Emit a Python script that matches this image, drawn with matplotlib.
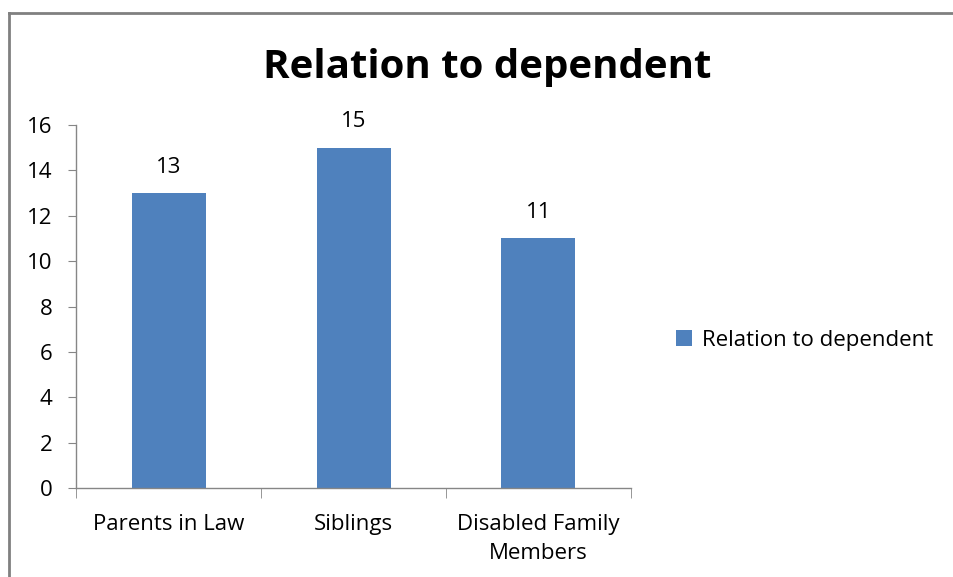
import matplotlib
matplotlib.use("Agg")
import matplotlib.pyplot as plt
from matplotlib.lines import Line2D

categories = ["Parents in Law", "Siblings", "Disabled Family\nMembers"]
values = [13, 15, 11]
series_name = "Relation to dependent"
yticks = [0, 2, 4, 6, 8, 10, 12, 14, 16]

bar_color = "#4f81bd"
axis_color = "#868686"

plt.rcParams["font.family"] = ["Open Sans", "DejaVu Sans"]

fig = plt.figure(figsize=(9.54, 5.77), dpi=100)
ax = fig.add_axes([0.0797, 0.1542, 0.5817, 0.6292])

x = list(range(len(categories)))
bars = ax.bar(x, values, width=0.4, color=bar_color, label=series_name, zorder=2)
for b, v in zip(bars, values):
    ax.annotate(str(v), (b.get_x() + b.get_width() / 2, v), xytext=(0, 11),
                textcoords="offset points", ha="center", va="bottom", fontsize=16)

ax.set_xlim(-0.5, len(categories) - 0.5)
ax.set_ylim(0, 16)
ax.set_yticks(yticks)
ax.set_yticklabels([str(t) for t in yticks], fontsize=16)

# category labels centred, ticks between categories
ax.set_xticks(x)
ax.set_xticklabels(categories, fontsize=16, linespacing=1.5)
ax.tick_params(axis="x", which="major", length=0, pad=19)
ax.set_xticks([i - 0.5 for i in range(len(categories) + 1)], minor=True)
ax.tick_params(axis="x", which="minor", length=7, color=axis_color, direction="out")
ax.tick_params(axis="y", length=6, color=axis_color, direction="out", pad=11)

for side in ["top", "right"]:
    ax.spines[side].set_visible(False)
for side in ["left", "bottom"]:
    ax.spines[side].set_color(axis_color)
    ax.spines[side].set_linewidth(1)

fig.text(0.511, 0.883, series_name, ha="center", va="center",
         fontsize=29, fontweight="bold")

fig.legend(handles=bars[:1], labels=[series_name], loc="center left",
           bbox_to_anchor=(0.688, 0.41), frameon=False, fontsize=16,
           handlelength=0.7, handleheight=0.7, handletextpad=0.45)

# chart area border
fig.add_artist(Line2D([0.0095, 0.0095], [0, 0.977], transform=fig.transFigure,
                      color="#808080", linewidth=2))
fig.add_artist(Line2D([0.0095, 1.0], [0.977, 0.977], transform=fig.transFigure,
                      color="#808080", linewidth=2))

fig.savefig("out.png", dpi=100)
